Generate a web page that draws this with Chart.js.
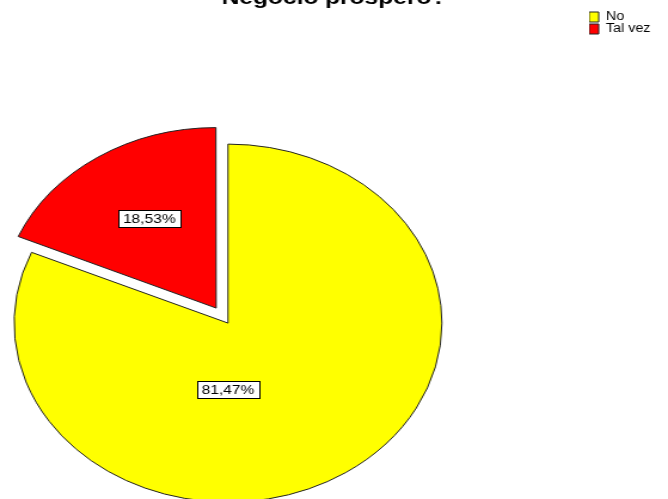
<!DOCTYPE html>
<html lang="es">
<head>
<meta charset="utf-8">
<title>Negocio prospero?</title>
<script src="https://cdn.jsdelivr.net/npm/chart.js@4.4.1/dist/chart.umd.min.js"></script>
<style>
  html, body { margin: 0; padding: 0; background: #fff; overflow: hidden; }
  /* el gráfico original sale estirado en horizontal y cortado abajo */
  #marco { width: 559px; height: 499px; overflow: hidden; transform: scaleX(1.195); transform-origin: 0 0; }
</style>
</head>
<body>
<div id="marco"><canvas id="grafico" width="559" height="635"></canvas></div>
<script>
// Datos
const titulo = 'Negocio prospero?';
const categorias = ['No', 'Tal vez'];
const porcentajes = [81.47, 18.53];
const colores = ['#ffff00', '#ff0000'];
const separacion = [0, 72];   // porción "Tal vez" separada del resto

const fuente = 'Arial, "Liberation Sans", sans-serif';

// 81.47 -> "81,47%"
const formato = v => v.toFixed(2).replace('.', ',') + '%';

// Dónde va cada etiqueta dentro de su porción: ángulo desde arriba (grados) y fracción del radio
const posEtiquetas = [
    { angulo: 180, dist: 0.37 },
    { angulo: -32, dist: 0.59 }
];

// Título centrado en todo el lienzo y leyenda arriba a la derecha
const ubicacion = {
    id: 'ubicacion',
    afterLayout(chart) {
        const t = chart.titleBlock;
        t.left = 0;
        t.right = chart.width;

        const l = chart.legend;
        l.left = 493;
        l.top = 11;
        l.right = chart.width;
        l.bottom = 60;
    }
};

// Cajitas blancas con el porcentaje
const etiquetas = {
    id: 'etiquetas',
    afterDatasetsDraw(chart) {
        const ctx = chart.ctx;
        const arcos = chart.getDatasetMeta(0).data;
        ctx.save();
        ctx.font = '13px ' + fuente;
        ctx.textAlign = 'center';
        ctx.textBaseline = 'middle';
        arcos.forEach((arco, i) => {
            const p = arco.getProps(['x', 'y', 'startAngle', 'endAngle', 'outerRadius'], true);
            const mitad = (p.startAngle + p.endAngle) / 2;
            const desp = (arco.options.offset || 0) / 4;
            const ax = p.x + Math.cos(mitad) * desp;
            const ay = p.y + Math.sin(mitad) * desp;
            const a = posEtiquetas[i].angulo * Math.PI / 180;
            const r = posEtiquetas[i].dist * p.outerRadius;
            const x = ax + Math.sin(a) * r;
            const y = ay - Math.cos(a) * r;

            const texto = formato(porcentajes[i]);
            const w = Math.round(ctx.measureText(texto).width + 8);
            const h = 17;
            const bx = Math.round(x - w / 2) + 0.5;
            const by = Math.round(y - h / 2) + 0.5;
            ctx.fillStyle = '#ffffff';
            ctx.fillRect(bx, by, w, h);
            ctx.strokeStyle = '#000000';
            ctx.lineWidth = 1;
            ctx.strokeRect(bx, by, w, h);
            ctx.fillStyle = '#000000';
            ctx.fillText(texto, x, y + 1);
        });
        ctx.restore();
    }
};

new Chart(document.getElementById('grafico'), {
    type: 'pie',
    data: {
        labels: categorias,
        datasets: [{
            data: porcentajes,
            backgroundColor: colores,
            borderColor: '#222222',
            borderWidth: 1,
            offset: separacion,
            clip: false
        }]
    },
    options: {
        responsive: false,
        animation: false,
        radius: 179,
        layout: {
            padding: { left: 0, right: 177.4, top: 0, bottom: 0 }
        },
        plugins: {
            title: {
                display: true,
                text: titulo,
                color: '#000000',
                font: { family: fuente, size: 20.5, weight: 'bold' },
                padding: { top: -14.4, bottom: 1 }
            },
            legend: {
                position: 'chartArea',
                align: 'start',
                labels: {
                    boxWidth: 8,
                    boxHeight: 10,
                    padding: 0,
                    color: '#000000',
                    font: { family: fuente, size: 12 }
                }
            },
            tooltip: { enabled: false }
        }
    },
    plugins: [ubicacion, etiquetas]
});
</script>
</body>
</html>
